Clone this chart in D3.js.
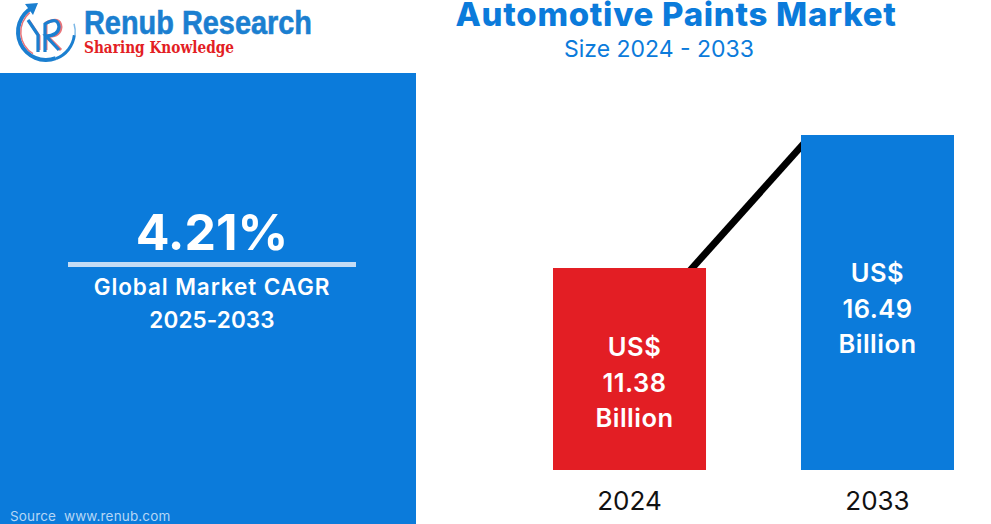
<!DOCTYPE html>
<html>
<head>
<meta charset="utf-8">
<script src="https://cdn.jsdelivr.net/npm/d3@7"></script>
<style>
html, body { margin: 0; padding: 0; background: #fff; }
svg { display: block; }
text { font-family: Inter, "Noto Sans", sans-serif; }
</style>
</head>
<body>
<svg id="chart" width="991" height="524"></svg>
<script>
var years = ["2024", "2033"];
var sizes = [11.38, 16.49];
var bar_colors = ["#e31e24", "#0b7bdb"];
var bar_labels = [["US$", "11.38", "Billion"], ["US$", "16.49", "Billion"]];
var cagr_label = "4.21%";
var cagr_lines = ["Global Market CAGR", "2025-2033"];

var blue = "#0b7bdb";
var svg = d3.select("#chart");

// left panel
svg.append("rect").attr("x", 0).attr("y", 73).attr("width", 416).attr("height", 451).attr("fill", blue);

svg.append("text").attr("x", 212).attr("y", 250).attr("text-anchor", "middle")
    .attr("font-size", 50).attr("font-weight", 700).attr("fill", "#fff").text(cagr_label);
svg.append("rect").attr("x", 68).attr("y", 262).attr("width", 288).attr("height", 5).attr("fill", "#c4dcf5");
svg.selectAll(".cagr").data(cagr_lines).enter().append("text")
    .attr("x", 212)
    .attr("y", function(d, i) { return 295 + i * 33; })
    .attr("text-anchor", "middle").attr("font-size", 22.5).attr("font-weight", 600).attr("fill", "#fff")
    .attr("letter-spacing", function(d, i) { return i == 0 ? 0.9 : 0.1; })
    .text(function(d) { return d; });

svg.append("text").attr("x", 10).attr("y", 521).attr("font-size", 13.5).attr("fill", "#b5d6f5")
    .attr("letter-spacing", 0.15).style("white-space", "pre").text("Source  www.renub.com");

// titles
svg.append("text").attr("x", 676).attr("y", 25.5).attr("text-anchor", "middle")
    .attr("font-size", 33).attr("font-weight", 800).attr("letter-spacing", 0.7).attr("fill", blue)
    .text("Automotive Paints Market");
svg.append("text").attr("x", 659).attr("y", 57).attr("text-anchor", "middle")
    .attr("font-size", 23).attr("fill", blue).text("Size 2024 - 2033");

// bars
var x = d3.scaleBand().domain(years).range([553, 954]).paddingInner(0.383);
var y = d3.scaleLinear().domain([3.62, 16.49]).range([470, 135]);
var bw = x.bandwidth();

// trend stroke sits behind the bars
svg.append("line")
    .attr("x1", x("2024") + bw * 0.875).attr("y1", y(sizes[0]) + 6)
    .attr("x2", x("2033") + 5).attr("y2", y(sizes[1]) + 6)
    .attr("stroke", "#000").attr("stroke-width", 7);

svg.selectAll(".bar").data(sizes).enter().append("rect")
    .attr("x", function(d, i) { return x(years[i]); })
    .attr("y", function(d) { return y(d); })
    .attr("width", bw)
    .attr("height", function(d) { return y.range()[0] - y(d); })
    .attr("fill", function(d, i) { return bar_colors[i]; });

bar_labels.forEach(function(lines, i) {
    var top = y(sizes[i]) + (i == 0 ? 88 : 147);
    svg.selectAll(".lab" + i).data(lines).enter().append("text")
        .attr("x", x(years[i]) + bw / 2 + (i == 0 ? 5 : 0))
        .attr("y", function(d, j) { return top + j * 35.5; })
        .attr("text-anchor", "middle").attr("font-size", 25.5).attr("font-weight", 600)
        .attr("letter-spacing", 0.5).attr("fill", "#fff")
        .text(function(d) { return d; });
});

svg.selectAll(".year").data(years).enter().append("text")
    .attr("x", function(d) { return x(d) + bw / 2; })
    .attr("y", 510).attr("text-anchor", "middle").attr("font-size", 26).attr("fill", "#111")
    .text(function(d) { return d; });

// logo
var logo = svg.append("g");
var arc = d3.arc();
logo.append("path").attr("transform", "translate(46,32)")
    .attr("d", arc({innerRadius: 26, outerRadius: 30, startAngle: -0.5, endAngle: -3.5}))
    .attr("fill", "#1b7fd0");
logo.append("path").attr("transform", "translate(46,32)")
    .attr("d", arc({innerRadius: 27, outerRadius: 30, startAngle: -3.5, endAngle: -4.6}))
    .attr("fill", "#1b7fd0");
logo.append("path").attr("transform", "translate(46,32)")
    .attr("d", arc({innerRadius: 28.5, outerRadius: 30, startAngle: -4.6, endAngle: -5.0}))
    .attr("fill", "#7db8e6");
logo.append("path").attr("transform", "translate(46,32)")
    .attr("d", arc({innerRadius: 24.5, outerRadius: 26, startAngle: -0.7, endAngle: -2.6}))
    .attr("fill", "#e8747a");
logo.append("path").attr("d", "M25 4 L38 3 L33 15 Z").attr("fill", "#1b7fd0");
var mark_red = "M29 21 L39 36 L39 50 M46 50 L46 23 Q60 16 61 27 Q60 37 47 36 L61 50";
var mark_blue = "M28 20 L38 35 L38 52 M45 52 L45 24 Q58 16 59 27 Q58 36 46 36 L59 50";
logo.append("path").attr("d", mark_red).attr("fill", "none").attr("stroke", "#e8747a").attr("stroke-width", 3);
logo.append("path").attr("d", mark_blue).attr("fill", "none").attr("stroke", "#1b7fd0").attr("stroke-width", 3.2);
logo.append("text").attr("x", 84).attr("y", 34).attr("textLength", 228).attr("lengthAdjust", "spacingAndGlyphs")
    .style("font-family", "Liberation Sans")
    .attr("font-size", 34).attr("font-weight", 700).attr("fill", "#1b7fd0")
    .attr("stroke", "#1b7fd0").attr("stroke-width", 0.6).text("Renub Research");
logo.append("text").attr("x", 84).attr("y", 53).attr("textLength", 150).attr("lengthAdjust", "spacingAndGlyphs")
    .style("font-family", "DejaVu Serif")
    .attr("font-size", 16).attr("font-weight", 700).attr("fill", "#e31e24").text("Sharing Knowledge");
</script>
</body>
</html>
